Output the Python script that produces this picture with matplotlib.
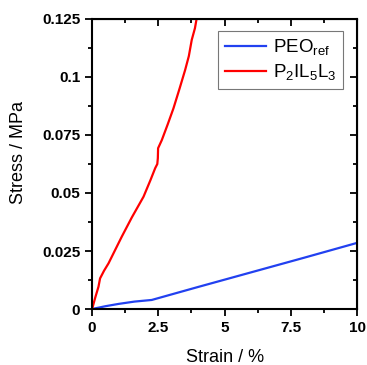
import matplotlib
matplotlib.use("Agg")
import matplotlib.pyplot as plt
from matplotlib.ticker import MultipleLocator, FuncFormatter

plt.rcParams['font.family'] = ['Liberation Sans', 'DejaVu Sans']

# data
peo_strain = [0, 0.5, 1.0, 1.6, 2.25, 4, 6, 8, 10]
peo_stress = [0, 0.0012, 0.0022, 0.0032, 0.0039, 0.0095, 0.0158, 0.0221, 0.0285]

pil_strain = [0, 0.12, 0.24, 0.3, 0.45, 0.62, 0.85, 1.12, 1.5, 1.94, 2.2, 2.38, 2.46, 2.48, 2.49, 2.63,
              2.85, 3.07, 3.3, 3.51, 3.65, 3.76, 3.88, 3.95]
pil_stress = [0, 0.005, 0.0096, 0.0132, 0.0165, 0.0197, 0.025, 0.0312, 0.0395, 0.0484, 0.0555, 0.0607,
              0.0625, 0.065, 0.0693, 0.0728, 0.0795, 0.0865, 0.095, 0.103, 0.109, 0.116, 0.121, 0.1255]

fig = plt.figure(figsize=(3.67, 3.65), dpi=100)
ax = fig.add_axes([0.251, 0.1534, 0.722, 0.7946])

ax.plot(peo_strain, peo_stress, color='#2241f0', lw=1.6, label=r'PEO$_{\mathregular{ref}}$')
ax.plot(pil_strain, pil_stress, color='#ff0000', lw=1.6,
        label=r'P$_{\mathregular{2}}$IL$_{\mathregular{5}}$L$_{\mathregular{3}}$')

ax.set_xlim(0, 10)
ax.set_ylim(0, 0.125)
ax.xaxis.set_major_locator(MultipleLocator(2.5))
ax.xaxis.set_minor_locator(MultipleLocator(1.25))
ax.yaxis.set_major_locator(MultipleLocator(0.025))
ax.yaxis.set_minor_locator(MultipleLocator(0.0125))


def fmt(v, pos):
    s = ('%.3f' % v).rstrip('0').rstrip('.')
    return s


ax.xaxis.set_major_formatter(FuncFormatter(fmt))
ax.yaxis.set_major_formatter(FuncFormatter(fmt))

for sp in ax.spines.values():
    sp.set_linewidth(1.5)

ax.tick_params(which='both', direction='out', top=False, right=False, width=1.3)
ax.tick_params(which='major', length=5, labelsize=11)
ax.tick_params(which='minor', length=3)
for lab in ax.get_xticklabels() + ax.get_yticklabels():
    lab.set_fontweight('bold')

# inward mirrored ticks on top and right
axt = ax.secondary_xaxis('top')
axt.xaxis.set_major_locator(MultipleLocator(2.5))
axt.xaxis.set_minor_locator(MultipleLocator(1.25))
axt.tick_params(which='both', direction='in', labeltop=False, width=1.3)
axt.tick_params(which='major', length=5)
axt.tick_params(which='minor', length=3)
axr = ax.secondary_yaxis('right')
axr.yaxis.set_major_locator(MultipleLocator(0.025))
axr.yaxis.set_minor_locator(MultipleLocator(0.0125))
axr.tick_params(which='both', direction='in', labelright=False, width=1.3)
axr.tick_params(which='major', length=5)
axr.tick_params(which='minor', length=3)

ax.set_xlabel('Strain / %', fontsize=13, labelpad=10)
ax.set_ylabel('Stress / MPa', fontsize=13)
ax.yaxis.set_label_coords(-0.245, 0.538)

leg = ax.legend(loc='upper right', bbox_to_anchor=(343 / 367, 1 - 31 / 365), bbox_transform=fig.transFigure,
                borderaxespad=0, fontsize=13.5, fancybox=False,
                handlelength=2.2, borderpad=0.35, labelspacing=0.25, handletextpad=0.35)
leg.get_frame().set_edgecolor('#555555')
leg.get_frame().set_linewidth(0.8)

fig.savefig('out.png', dpi=100)
